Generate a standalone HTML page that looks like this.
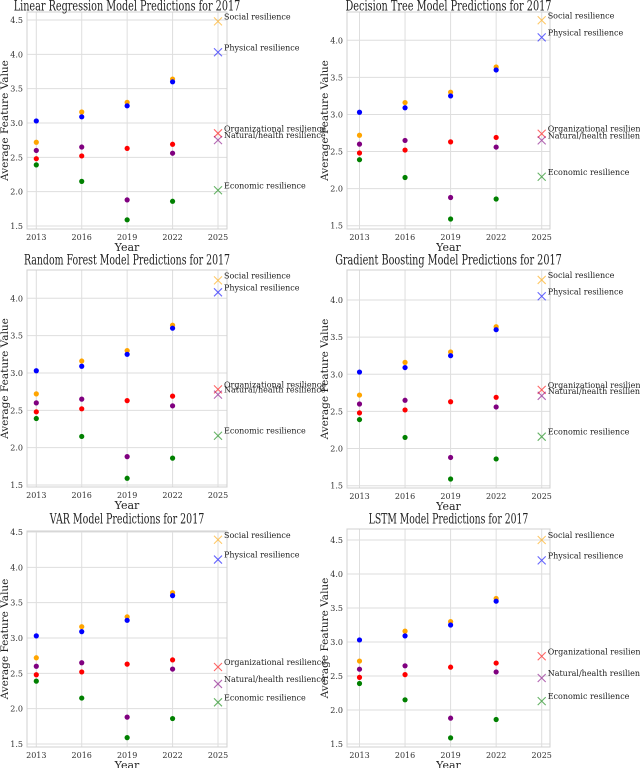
<!DOCTYPE html>
<html><head><meta charset="utf-8">
<style>
html,body{margin:0;padding:0;background:#fff;}
svg{display:block;font-family:"DejaVu Serif","Liberation Serif",serif;}
</style></head>
<body>
<svg id="chart" width="640" height="768" viewBox="0 0 640 768" xmlns="http://www.w3.org/2000/svg"></svg>
<script>
const years = [2013, 2016, 2019, 2022];
const predYear = 2025;
const xTickLabels = ["2013","2016","2019","2022","2025"];
const seriesNames = ["Social resilience","Physical resilience","Organizational resilience","Natural/health resilience","Economic resilience"];
const seriesColors = ["orange","blue","red","purple","green"];
const social = [2.72, 3.16, 3.30, 3.64];
const physical = [3.03, 3.09, 3.25, 3.60];
const organizational = [2.48, 2.52, 2.63, 2.69];
const natural = [2.60, 2.65, 1.88, 2.56];
const economic = [2.39, 2.15, 1.59, 1.86];
const modelTitles = ["Linear Regression Model Predictions for 2017","Decision Tree Model Predictions for 2017","Random Forest Model Predictions for 2017","Gradient Boosting Model Predictions for 2017","VAR Model Predictions for 2017","LSTM Model Predictions for 2017"];
const predLR = [4.48, 4.03, 2.85, 2.75, 2.02];
const predDT = [4.27, 4.04, 2.74, 2.65, 2.16];
const predRF = [4.24, 4.08, 2.78, 2.71, 2.16];
const predGB = [4.27, 4.05, 2.79, 2.71, 2.16];
const predVAR = [4.39, 4.11, 2.59, 2.35, 2.09];
const predLSTM = [4.50, 4.20, 2.79, 2.47, 2.13];
const yTicks = [1.5, 2.0, 2.5, 3.0, 3.5, 4.0, 4.5];

const hist = [social, physical, organizational, natural, economic];
const preds = [predLR, predDT, predRF, predGB, predVAR, predLSTM];
const layout = [
 {l:27,r:227,t:12,b:229,x0:36.3,x1:218,va:1.5,pa:226,vb:4.5,pb:20,ty:14},
 {l:347,r:550,t:12,b:229,x0:359.5,x1:541.7,va:1.5,pa:225.7,vb:4.0,pb:40.3,ty:14},
 {l:27,r:227,t:270,b:487,x0:36.3,x1:218,va:1.5,pa:485,vb:4.0,pb:298.3,ty:268},
 {l:347,r:550,t:270,b:488,x0:359.5,x1:541.7,va:1.5,pa:485.7,vb:4.0,pb:300,ty:268},
 {l:27,r:227,t:531,b:747,x0:36.3,x1:218,va:1.5,pa:744,vb:4.5,pb:532,ty:527},
 {l:347,r:550,t:529,b:747,x0:359.5,x1:541.7,va:1.5,pa:744,vb:4.5,pb:540,ty:527}
];
const NS="http://www.w3.org/2000/svg";
const svg=document.getElementById('chart');
function mk(tag,attrs,parent){const e=document.createElementNS(NS,tag);for(const k in attrs)e.setAttribute(k,attrs[k]);(parent||svg).appendChild(e);return e;}

layout.forEach((L,pi)=>{
  const g=mk('g',{});
  
  
  const xs=v=>L.x0+(v-2013)/(predYear-2013)*(L.x1-L.x0);
  const ys=v=>L.pa+(v-L.va)/(L.vb-L.va)*(L.pb-L.pa);
  yTicks.forEach(t=>{
    const y=ys(t); if(y<L.t-1||y>L.b+1) return;
    const gl=mk('line',{x1:L.l,x2:L.r,y1:y,y2:y,stroke:'#dedede','stroke-width':1},g);
    
    
    const tl=mk('text',{x:L.l-4,y:y+3,'text-anchor':'end','font-size':8,fill:'#333'},g);
    tl.textContent=t.toFixed(1);
    
    
  });
  xTickLabels.forEach(s=>{
    const x=xs(+s);
    const gl=mk('line',{x1:x,x2:x,y1:L.t,y2:L.b,stroke:'#dedede','stroke-width':1},g);
    
    
    const tl=mk('text',{x:x,y:L.b+11,'text-anchor':'middle','font-size':8,fill:'#333'},g);
    tl.textContent=s;
    
    
  });
  const box=mk('rect',{x:L.l,y:L.t,width:L.r-L.l,height:L.b-L.t,fill:'none',stroke:'#d0d0d0','stroke-width':1},g);
  
  
  const tw=modelTitles[pi].length*5.15;
  const title=mk('text',{x:(L.l+L.r)/2,y:L.ty-3.5,'text-anchor':'middle','font-size':13.5,fill:'#222',textLength:tw,lengthAdjust:'spacingAndGlyphs'},g);
  title.textContent=modelTitles[pi];
  
  
  const xl=mk('text',{x:(L.l+L.r)/2,y:L.b+22,'text-anchor':'middle','font-size':11,fill:'#222'},g);
  xl.textContent='Year';
  
  
  const cy=(L.t+L.b)/2, cx=L.l-19;
  const yl=mk('text',{x:cx,y:cy,'text-anchor':'middle','font-size':10.5,fill:'#222',transform:'rotate(-90 '+cx+' '+cy+')'},g);
  yl.textContent='Average Feature Value';
  
  
  hist.forEach((arr,si)=>{
    arr.forEach((v,i)=>{
      const c=mk('circle',{cx:xs(years[i]),cy:ys(v),r:2.6,fill:seriesColors[si]},g);
      
      
    });
  });
  preds[pi].forEach((v,si)=>{
    const x=xs(predYear), y=ys(v), s=4;
    const p=mk('path',{d:`M${x-s} ${y-s}L${x+s} ${y+s}M${x-s} ${y+s}L${x+s} ${y-s}`,stroke:seriesColors[si],'stroke-opacity':0.6,'stroke-width':1.1,fill:'none'},g);
    
    
    const t=mk('text',{x:x+6,y:y-2,'font-size':8,fill:'#222'},g);
    t.textContent=seriesNames[si];
    
    
  });
});
</script>
</body></html>
